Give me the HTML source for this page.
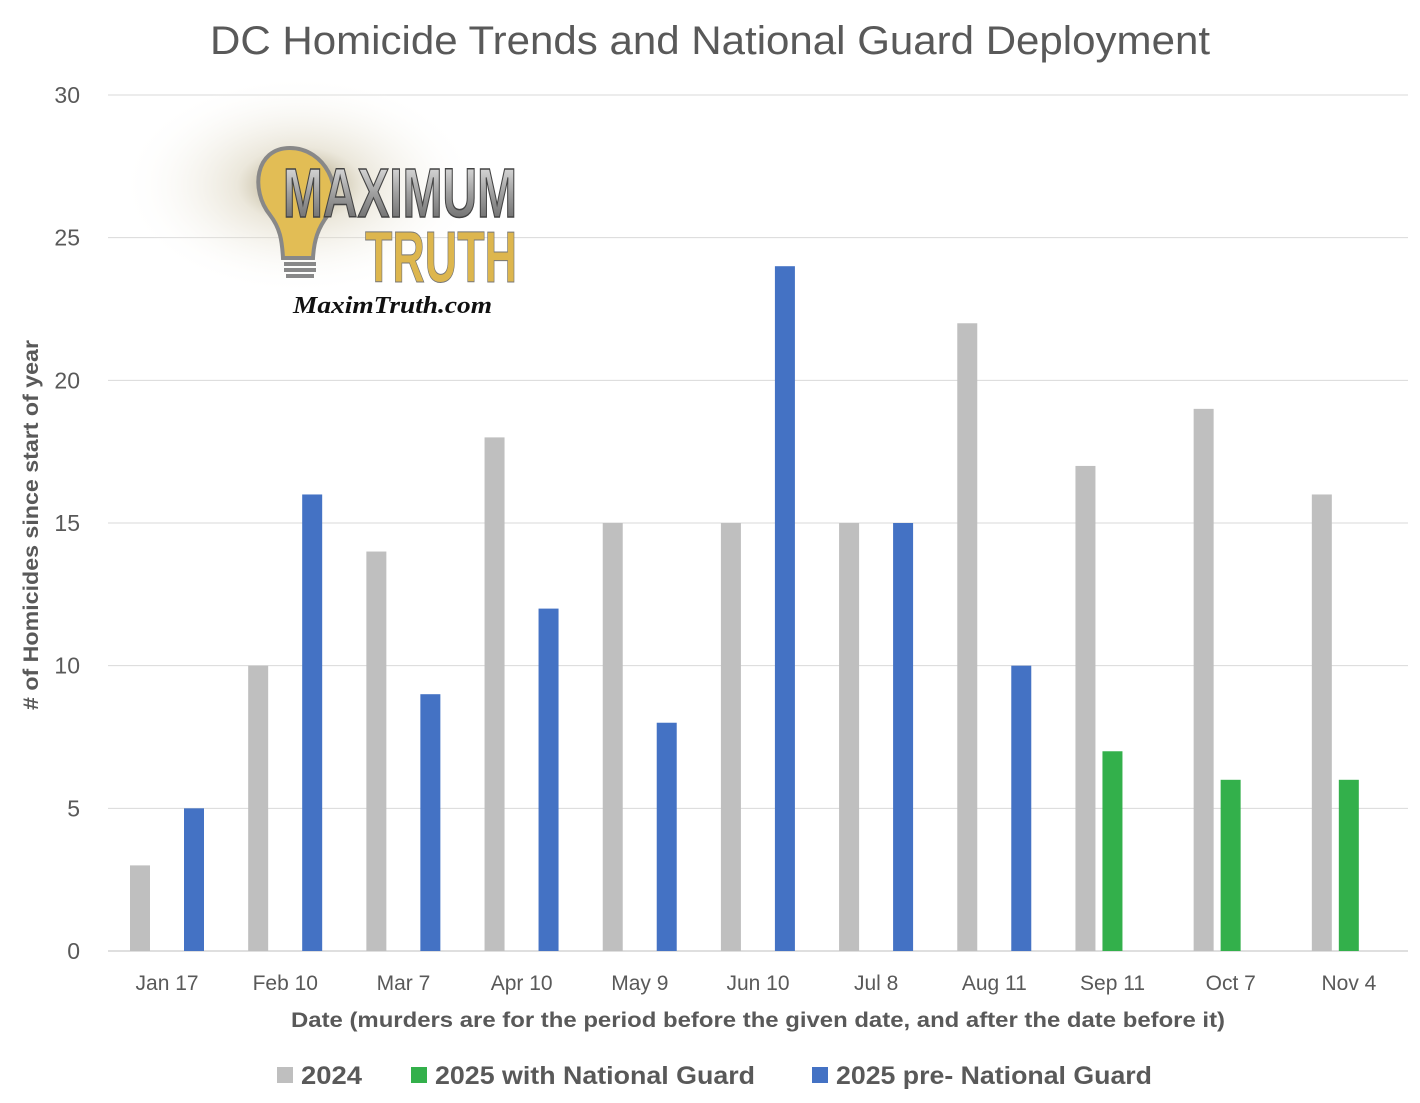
<!DOCTYPE html>
<html><head><meta charset="utf-8"><style>
body{margin:0;background:#fff;}
svg{display:block;font-family:"Liberation Sans",sans-serif;}
</style></head><body>
<svg id="chart" width="1420" height="1103" viewBox="0 0 1420 1103">
<defs>
<radialGradient id="glow" cx="0.5" cy="0.5" r="0.5">
<stop offset="0" stop-color="#8a7a4a" stop-opacity="0.9"/>
<stop offset="0.35" stop-color="#d8d0b8" stop-opacity="0.5"/>
<stop offset="1" stop-color="#fff" stop-opacity="0"/>
</radialGradient>
<linearGradient id="chrome" x1="0" y1="0" x2="0" y2="1">
<stop offset="0" stop-color="#f4f4f4"/><stop offset="0.5" stop-color="#a0a0a0"/><stop offset="1" stop-color="#5a5a5a"/>
</linearGradient>
</defs>
<text x="210" y="54" font-size="40" fill="#595959" textLength="1000" lengthAdjust="spacingAndGlyphs">DC Homicide Trends and National Guard Deployment</text>
<g id="grid"></g>
<g id="yticks"></g>
<g>
<ellipse cx="300" cy="185" rx="180" ry="110" fill="url(#glow)"/>
<path d="M290 148 C255 148 250 190 270 215 C280 228 282 240 283 258 L313 258 C314 240 318 228 328 215 C345 190 325 148 290 148 Z" fill="#e2bd55" stroke="#888" stroke-width="4"/>
<rect x="284" y="262" width="32" height="4" fill="#888"/><rect x="284" y="268" width="32" height="4" fill="#888"/><rect x="286" y="274" width="28" height="4" fill="#888"/>
<text x="283" y="217" font-size="70" font-weight="bold" fill="url(#chrome)" stroke="#444" stroke-width="1.5" textLength="234" lengthAdjust="spacingAndGlyphs">MAXIMUM</text>
<text x="365" y="282" font-size="72" font-weight="bold" fill="#ddb64e" stroke="#777" stroke-width="1" textLength="152" lengthAdjust="spacingAndGlyphs">TRUTH</text>
<text x="293" y="313" font-family="Liberation Serif,serif" font-style="italic" font-weight="bold" font-size="24" fill="#111" textLength="199" lengthAdjust="spacingAndGlyphs">MaximTruth.com</text>
</g>
<g id="bars"></g>
<g id="xticks"></g>
<text transform="translate(38,710) rotate(-90)" font-size="21" font-weight="bold" fill="#595959" textLength="370" lengthAdjust="spacingAndGlyphs"># of Homicides since start of year</text>
<text x="291" y="1027" font-size="21" font-weight="bold" fill="#595959" textLength="934" lengthAdjust="spacingAndGlyphs">Date (murders are for the period before the given date, and after the date before it)</text>
<g>
<g><rect x="277" y="1067" width="16" height="16" fill="#bfbfbf"/><text x="301" y="1084" font-size="25" font-weight="bold" fill="#595959" textLength="61" lengthAdjust="spacingAndGlyphs">2024</text></g>
<g><rect x="411" y="1067" width="16" height="16" fill="#33b04b"/><text x="435" y="1084" font-size="25" font-weight="bold" fill="#595959" textLength="320" lengthAdjust="spacingAndGlyphs">2025 with National Guard</text></g>
<g><rect x="812" y="1067" width="16" height="16" fill="#4472c4"/><text x="836" y="1084" font-size="25" font-weight="bold" fill="#595959" textLength="316" lengthAdjust="spacingAndGlyphs">2025 pre- National Guard</text></g>
</g>
</svg>
<script>
const categories=["Jan 17","Feb 10","Mar 7","Apr 10","May 9","Jun 10","Jul 8","Aug 11","Sep 11","Oct 7","Nov 4"];
const values2024=[3,10,14,18,15,15,15,22,17,19,16];
const valuesGuard=[null,null,null,null,null,null,null,null,7,6,6];
const valuesPre=[5,16,9,12,8,24,15,10,null,null,null];
const yTicks=[0,5,10,15,20,25,30];
const NS="http://www.w3.org/2000/svg";
const L=108,R=1408,T=95,B=951,yMax=30;
const band=(R-L)/categories.length;
function y(v){return B-(v/yMax)*(B-T);}
function x(i){return L+i*band;}
function mk(t,a,p){const e=document.createElementNS(NS,t);for(const k in a)e.setAttribute(k,a[k]);p.appendChild(e);return e;}
const grid=document.getElementById('grid'),yt=document.getElementById('yticks');
yTicks.forEach(v=>{
 const l=mk('line',{x1:L,x2:R,y1:y(v),y2:y(v),stroke:v===0?'#bfbfbf':'#d9d9d9','stroke-width':1},grid);
 
 
 const t=mk('text',{x:80,y:y(v)+8,'text-anchor':'end','font-size':23,fill:'#595959'},yt);
 t.textContent=v;
 
 
});
const bars=document.getElementById('bars'),xt=document.getElementById('xticks');
const series=[[values2024,'#bfbfbf',22,'2024'],[valuesGuard,'#33b04b',49,'guard'],[valuesPre,'#4472c4',76,'pre']];
categories.forEach((c,i)=>{
 series.forEach(s=>{
  const v=s[0][i]; if(v==null)return;
  const r=mk('rect',{x:x(i)+s[2],y:y(v),width:20,height:B-y(v),fill:s[1]},bars);
  
  
 });
 const t=mk('text',{x:x(i)+band/2,y:990,'text-anchor':'middle','font-size':21,fill:'#595959'},xt);
 t.textContent=c;
 
 
});
</script>
</body></html>
